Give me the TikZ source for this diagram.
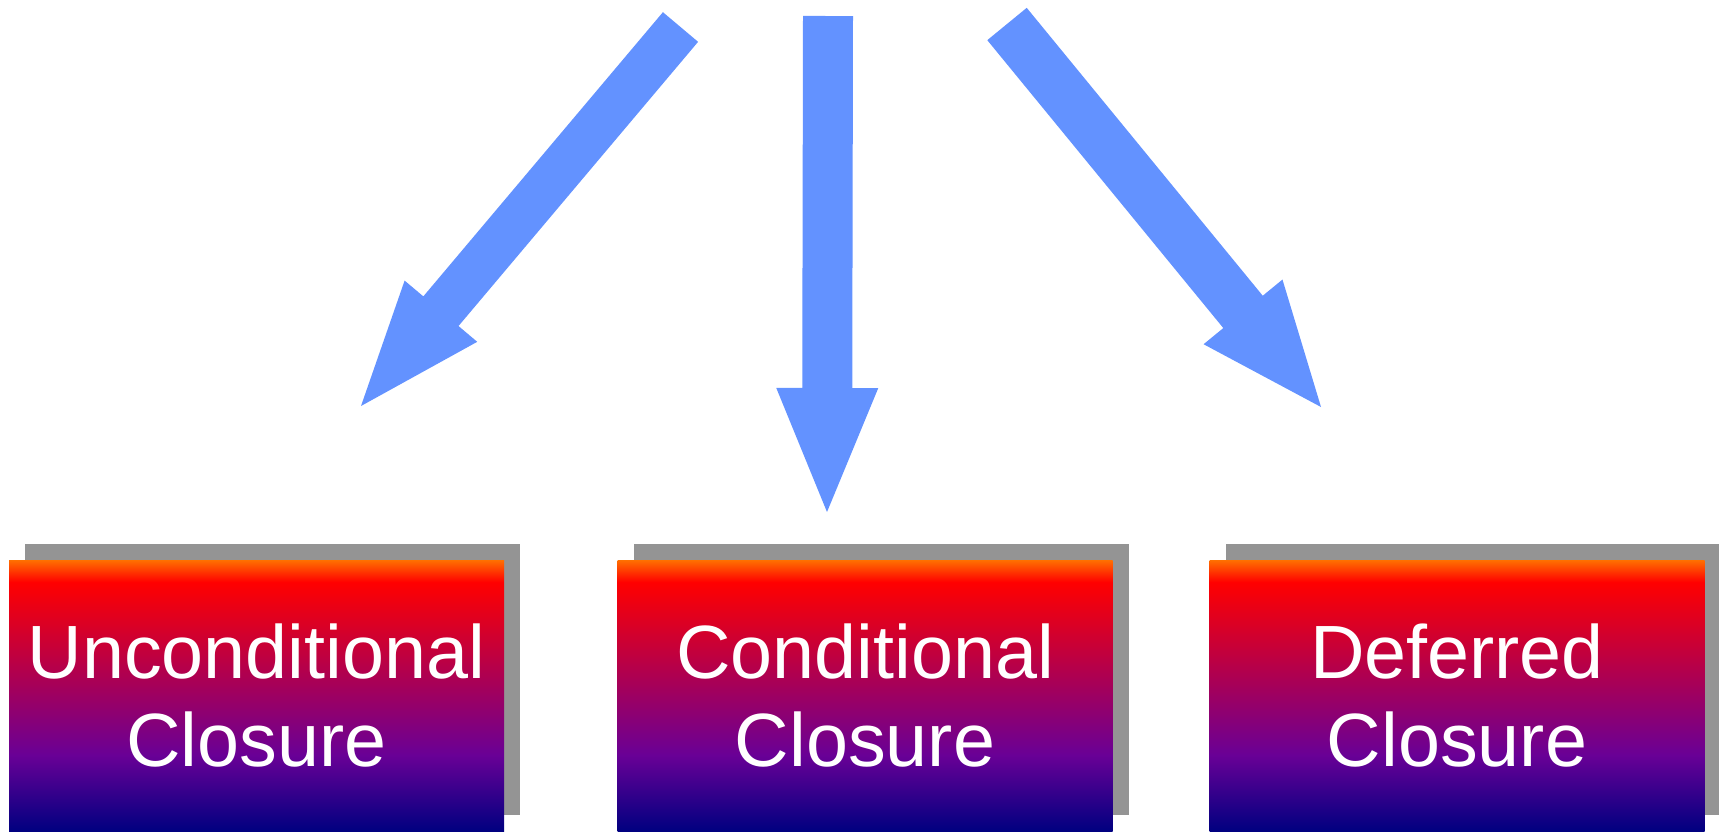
\documentclass[tikz,border=0pt]{standalone}
\usepackage{fontspec}
\setmainfont{Liberation Sans}
\usetikzlibrary{calc,shadows}

\definecolor{arrowblue}{RGB}{99,146,255}
\definecolor{shadowgray}{RGB}{148,148,148}
\definecolor{boxorange}{RGB}{255,112,0}
\definecolor{boxred}{RGB}{255,0,0}
\definecolor{boxpurple}{RGB}{105,0,150}
\definecolor{boxnavy}{RGB}{0,0,128}

% vertical fill of the boxes: orange rim on top, red fading through purple to navy
\pgfdeclareverticalshading{closurefill}{100bp}{%
  color(0bp)=(boxnavy); color(25bp)=(boxnavy); color(39bp)=(boxpurple);
  color(70.9bp)=(boxred); color(75bp)=(boxorange); color(100bp)=(boxorange)}

% wide block arrow: tail, tip, half shaft width, half head width, head length
\newcommand\blockarrow[5]{%
  \coordinate (#2-base) at ($(#2)!#5!(#1)$);
  \fill[arrowblue]
    ($(#1)!#3!90:(#2)$) -- ($(#2-base)!#3!90:(#2)$) -- ($(#2-base)!#4!90:(#2)$)
    -- (#2)
    -- ($(#2-base)!#4!-90:(#2)$) -- ($(#2-base)!#3!-90:(#2)$) -- ($(#1)!#3!-90:(#2)$)
    -- cycle;}

\tikzset{
  closurebox/.style={rectangle, minimum width=495pt, minimum height=271pt,
    inner sep=0pt, shade, shading=closurefill, text=white, align=center,
    font=\fontsize{75.5}{88.5}\selectfont,
    drop shadow={shadow xshift=16pt, shadow yshift=16pt, fill=shadowgray, opacity=1}}
}

\begin{document}
\begin{tikzpicture}[x=1pt, y=-1pt]
  \useasboundingbox (0,0) rectangle (1719,831);

  % the three kinds of closure
  \node[closurebox] (uncond) at (256.5,695.5) {Unconditional\\Closure};
  \node[closurebox] (cond)   at (865,695.5)   {Conditional\\Closure};
  \node[closurebox] (defer)  at (1457,695.5)  {Deferred\\Closure};

  % arrow ends
  \coordinate (tailA) at (680.5,27);
  \coordinate (tipA)  at (361,406);
  \coordinate (tailB) at (828,16);
  \coordinate (tipB)  at (827,512);
  \coordinate (tailC) at (1007,24);
  \coordinate (tipC)  at (1321,407);

  \blockarrow{tailA}{tipA}{23pt}{47.5pt}{124pt}
  \blockarrow{tailB}{tipB}{25pt}{51pt}{124pt}
  \blockarrow{tailC}{tipC}{25.5pt}{51pt}{123pt}
\end{tikzpicture}
\end{document}
